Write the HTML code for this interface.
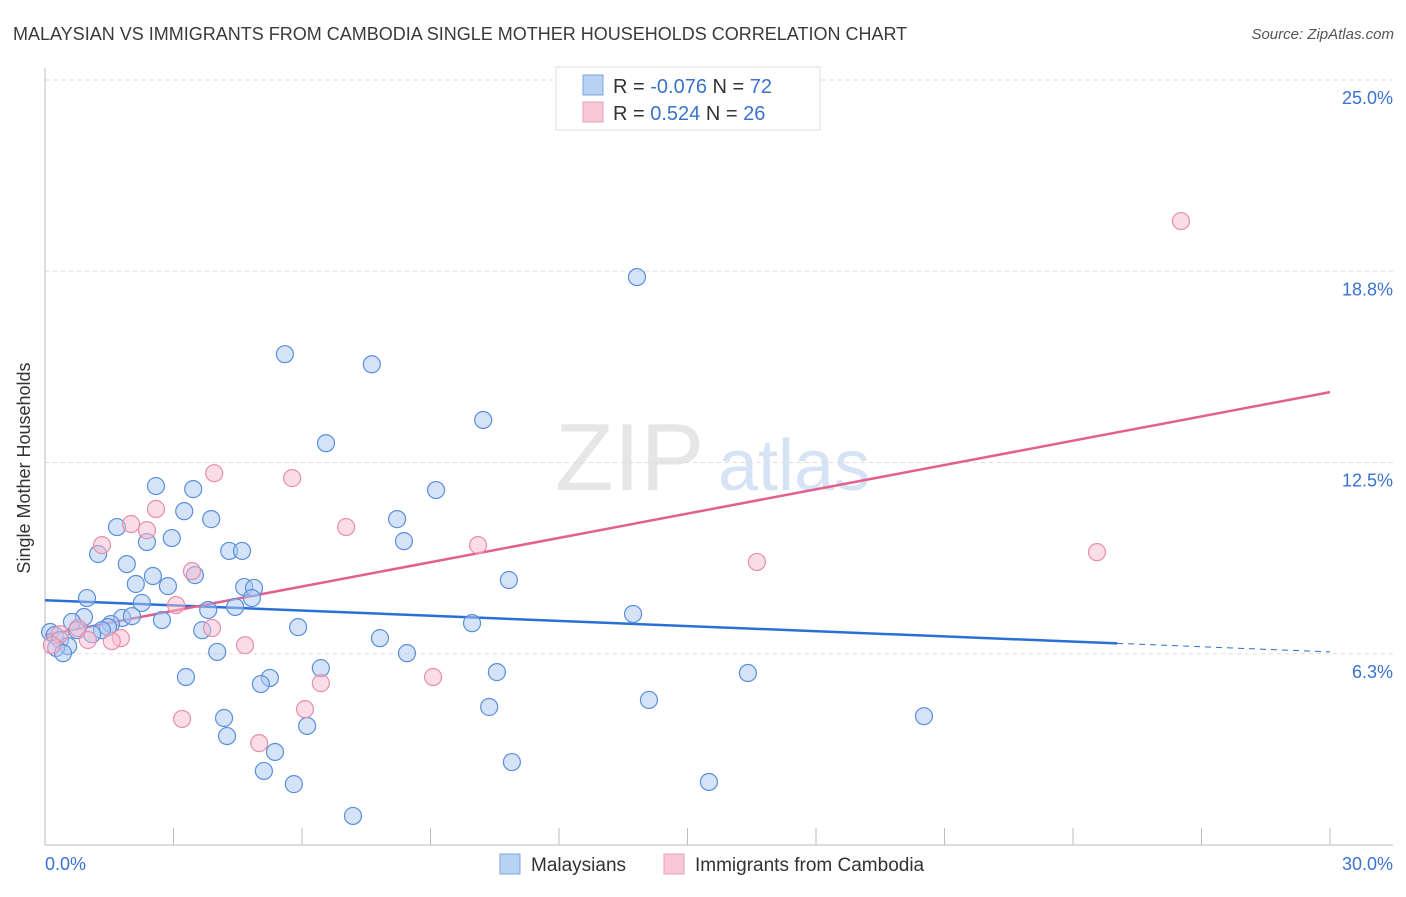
<!DOCTYPE html>
<html><head><meta charset="utf-8"><style>
body{margin:0;background:#fff;font-family:"Liberation Sans",sans-serif;}
svg text{font-family:"Liberation Sans",sans-serif;}
</style></head><body>
<svg id="chart" width="1406" height="892" xmlns="http://www.w3.org/2000/svg">
<text x="13" y="40" font-size="18" fill="#3a3a3a">MALAYSIAN VS IMMIGRANTS FROM CAMBODIA SINGLE MOTHER HOUSEHOLDS CORRELATION CHART</text>
<text x="1394" y="39" font-size="15" fill="#555" font-style="italic" text-anchor="end">Source: ZipAtlas.com</text>
<g><text x="555" y="490" font-size="96" fill="#e6e6e6" font-family="Liberation Serif">ZIP</text><text x="718" y="490" font-size="72" fill="#d6e3f5">atlas</text></g>
<g id="grid"></g>
<g id="axes"></g>
<g id="trends"></g>
<g id="points"></g>
<text x="18" y="456" font-size="18" fill="#333" transform="rotate(-90 30 456)" text-anchor="middle">Single Mother Households</text>
<g>
<rect x="556" y="67" width="264" height="63" fill="#fff" stroke="#ddd"/>
<rect x="583" y="75" width="20" height="20" fill="#b8d2f4" stroke="#7aa6e0"/>
<rect x="583" y="102" width="20" height="20" fill="#f8c8d6" stroke="#eaa0b8"/>
<text x="613" y="93" font-size="20" fill="#333">R = <tspan fill="#3a72d0">-0.076</tspan>   N = <tspan fill="#3a72d0">72</tspan></text>
<text x="613" y="120" font-size="20" fill="#333">R =   <tspan fill="#3a72d0">0.524</tspan>   N = <tspan fill="#3a72d0">26</tspan></text>
</g>
<g>
<rect x="500" y="854" width="20" height="20" fill="#b8d2f4" stroke="#7aa6e0"/>
<text x="531" y="871" font-size="19" fill="#333">Malaysians</text>
<rect x="664" y="854" width="20" height="20" fill="#f8c8d6" stroke="#eaa0b8"/>
<text x="695" y="871" font-size="19" fill="#333">Immigrants from Cambodia</text>
</g>
</svg>
<script>
const blueX=[13.82,5.60,7.63,10.23,6.56,2.59,3.46,9.13,3.25,3.88,8.22,1.68,2.38,2.96,8.38,1.24,4.30,4.60,1.91,2.52,3.50,10.83,2.12,2.87,4.65,4.88,0.98,2.26,4.83,4.44,3.81,13.73,1.80,2.03,2.73,0.91,0.63,1.54,1.47,1.33,9.97,5.91,3.67,0.75,1.10,7.82,0.12,0.23,0.35,0.54,0.26,0.42,4.02,8.45,6.44,10.55,16.41,3.29,5.25,5.04,14.10,10.37,20.52,4.18,6.12,4.25,5.37,10.90,5.11,15.50,5.81,7.19];
const blueY=[18.56,16.04,15.71,13.89,13.13,11.73,11.63,11.60,10.91,10.65,10.65,10.39,9.90,10.03,9.93,9.51,9.61,9.61,9.18,8.79,8.82,8.66,8.53,8.46,8.43,8.40,8.07,7.91,8.07,7.78,7.68,7.55,7.42,7.48,7.35,7.45,7.29,7.22,7.12,7.02,7.25,7.12,7.02,7.02,6.89,6.76,6.96,6.86,6.70,6.50,6.44,6.27,6.31,6.27,5.78,5.65,5.62,5.49,5.46,5.26,4.74,4.51,4.21,4.15,3.89,3.56,3.04,2.71,2.42,2.06,1.99,0.95];
const pinkX=[26.52,5.77,3.95,2.59,2.01,2.38,7.03,1.33,10.11,24.56,16.62,3.43,3.06,3.90,0.77,0.35,1.77,1.00,1.56,0.16,4.67,9.06,6.44,6.07,3.20,5.00];
const pinkY=[20.39,11.99,12.15,10.98,10.49,10.29,10.39,9.80,9.80,9.57,9.25,8.95,7.84,7.09,7.09,6.89,6.76,6.70,6.66,6.53,6.53,5.49,5.29,4.44,4.12,3.33];
const blueTrend=[8.00,6.31];
const pinkTrend=[6.86,14.80];
const blueSolidEnd=25.03;
const yTicks=[6.25,12.5,18.75,25];
const yTickLabels=["6.3%","12.5%","18.8%","25.0%"];
const xTicks=[0,3,6,9,12,15,18,21,24,27,30];
const NS="http://www.w3.org/2000/svg";
const sx=v=>45+v/30*1285;
const sy=v=>845-v/25*765;
function mk(p,tag,at){const e=document.createElementNS(NS,tag);for(const k in at)e.setAttribute(k,at[k]);p.appendChild(e);return e;}
const grid=document.getElementById('grid'),axes=document.getElementById('axes'),tr=document.getElementById('trends'),pts=document.getElementById('points');
yTicks.forEach((t,i)=>{const l=mk(grid,'line',{x1:45,x2:1393,y1:sy(t),y2:sy(t),stroke:'#ddd','stroke-dasharray':'4,4'});


const tx=mk(axes,'text',{x:1393,y:sy(t)+24,'font-size':18,fill:'#3a72d0','text-anchor':'end'});tx.textContent=yTickLabels[i];

});
mk(axes,'line',{x1:45,x2:45,y1:68,y2:845,stroke:'#bbb'});
mk(axes,'line',{x1:45,x2:1393,y1:845,y2:845,stroke:'#bbb'});
xTicks.forEach(t=>{const l=mk(axes,'line',{x1:sx(t),x2:sx(t),y1:828,y2:845,stroke:'#bbb'});

});
const x0=mk(axes,'text',{x:45,y:870,'font-size':18,fill:'#3a72d0'});x0.textContent="0.0%";


const x1=mk(axes,'text',{x:1393,y:870,'font-size':18,fill:'#3a72d0','text-anchor':'end'});x1.textContent="30.0%";


function pt(x,y,f,s,name){const c=mk(pts,'circle',{cx:sx(x),cy:sy(y),r:8.5,fill:f,'fill-opacity':0.5,stroke:s,'stroke-width':1.2});

}
blueX.forEach((x,i)=>pt(x,blueY[i],'#a9c8f2','#5a8fdc','malaysian-point'));
pinkX.forEach((x,i)=>pt(x,pinkY[i],'#f6bccd','#e88ea9','cambodia-point'));
const by=x=>blueTrend[0]+(blueTrend[1]-blueTrend[0])*x/30;
const bl=mk(tr,'line',{x1:sx(0),y1:sy(by(0)),x2:sx(blueSolidEnd),y2:sy(by(blueSolidEnd)),stroke:'#2a6fd6','stroke-width':2.5});


const bd=mk(tr,'line',{x1:sx(blueSolidEnd),y1:sy(by(blueSolidEnd)),x2:sx(30),y2:sy(by(30)),stroke:'#2a6fd6','stroke-width':1,'stroke-dasharray':'6,5'});


const pl=mk(tr,'line',{x1:sx(0),y1:sy(pinkTrend[0]),x2:sx(30),y2:sy(pinkTrend[1]),stroke:'#e4608c','stroke-width':2.5});


</script>
</body></html>
